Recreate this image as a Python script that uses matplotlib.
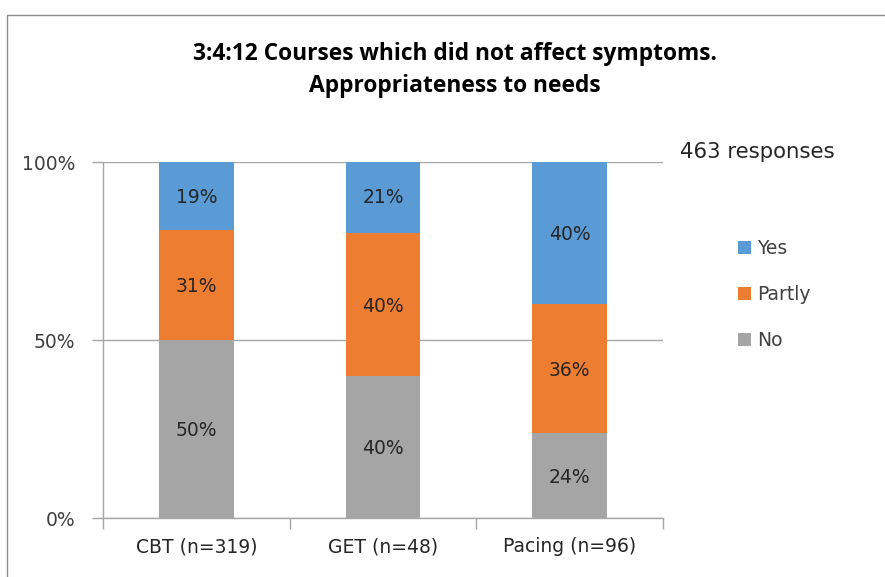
import matplotlib
matplotlib.use("Agg")
import matplotlib.pyplot as plt
import matplotlib.patches as mpatches
import numpy as np

categories = ["CBT (n=319)", "GET (n=48)", "Pacing (n=96)"]
no_vals = [50, 40, 24]
partly_vals = [31, 40, 36]
yes_vals = [19, 21, 40]
series_names = ["No", "Partly", "Yes"]
colors = {"No": "#A5A5A5", "Partly": "#ED7D31", "Yes": "#5B9BD5"}
y_ticks = [0, 50, 100]
y_tick_labels = ["0%", "50%", "100%"]
title_lines = ["3:4:12 Courses which did not affect symptoms.", "Appropriateness to needs"]
note = "463 responses"

plt.rcParams['font.family'] = ['DejaVu Sans']

fig = plt.figure(figsize=(8.85, 5.77), dpi=100)
fig.patch.set_facecolor("white")

# outer border
fig.patches.append(mpatches.Rectangle((7/885, -0.1), 1.2, (1 - 15/577) + 0.1,
                                      transform=fig.transFigure, fill=False,
                                      edgecolor="#8C8C8C", linewidth=1.0))

ax = fig.add_axes([103/885, 1 - 518/577, (663 - 103)/885, (518 - 162)/577])

x = np.arange(len(categories))
width = 0.4
series = {"No": no_vals, "Partly": partly_vals, "Yes": yes_vals}
bottom = np.zeros(len(categories))
handles = {}
for name in series_names:
    vals = np.array(series[name], dtype=float)
    b = ax.bar(x, vals, width, bottom=bottom, color=colors[name], zorder=3, label=name)
    handles[name] = b
    for xi, v, bt in zip(x, vals, bottom):
        ax.text(xi, bt + v / 2 - 0.5, f"{int(v)}%", ha="center", va="center",
                fontsize=13.5, color="#262626", zorder=4)
    bottom += vals

ax.set_xlim(-0.5, len(categories) - 0.5)
ax.set_ylim(0, 100)
ax.set_yticks(y_ticks)
ax.set_yticklabels(y_tick_labels, fontsize=13.5, color="#404040")
ax.set_xticks(x)
ax.set_xticklabels(categories, fontsize=13.5, color="#262626")
ax.set_xticks(np.arange(-0.5, len(categories), 1.0), minor=True)
ax.tick_params(axis="x", which="major", length=0, pad=14)
ax.tick_params(axis="x", which="minor", length=8, color="#A6A6A6", width=1)
ax.tick_params(axis="y", length=8, color="#A6A6A6", width=1, pad=12)
ax.yaxis.grid(True, color="#A6A6A6", linewidth=1, zorder=0)
for s in ["top", "right"]:
    ax.spines[s].set_visible(False)
for s in ["left", "bottom"]:
    ax.spines[s].set_color("#A6A6A6")
    ax.spines[s].set_linewidth(1)

fig.text(455/885, 1 - 54/577, title_lines[0], ha="center", va="center", fontsize=16.4,
         fontweight="bold", color="#000000", family=["Open Sans", "DejaVu Sans"])
fig.text(455/885, 1 - 86/577, title_lines[1], ha="center", va="center", fontsize=16.4,
         fontweight="bold", color="#000000", family=["Open Sans", "DejaVu Sans"])
fig.text(680/885, 1 - 152/577, note, ha="left", va="center", fontsize=15.3, color="#262626")

leg = fig.legend([handles[n] for n in ["Yes", "Partly", "No"]], ["Yes", "Partly", "No"],
                 loc="upper left", bbox_to_anchor=(730/885, 1 - 232/577),
                 frameon=False, fontsize=13.5, handlelength=0.7, handleheight=0.7,
                 handletextpad=0.35, labelspacing=1.42, borderaxespad=0)
for t in leg.get_texts():
    t.set_color("#404040")

fig.savefig("out.png", dpi=100)
